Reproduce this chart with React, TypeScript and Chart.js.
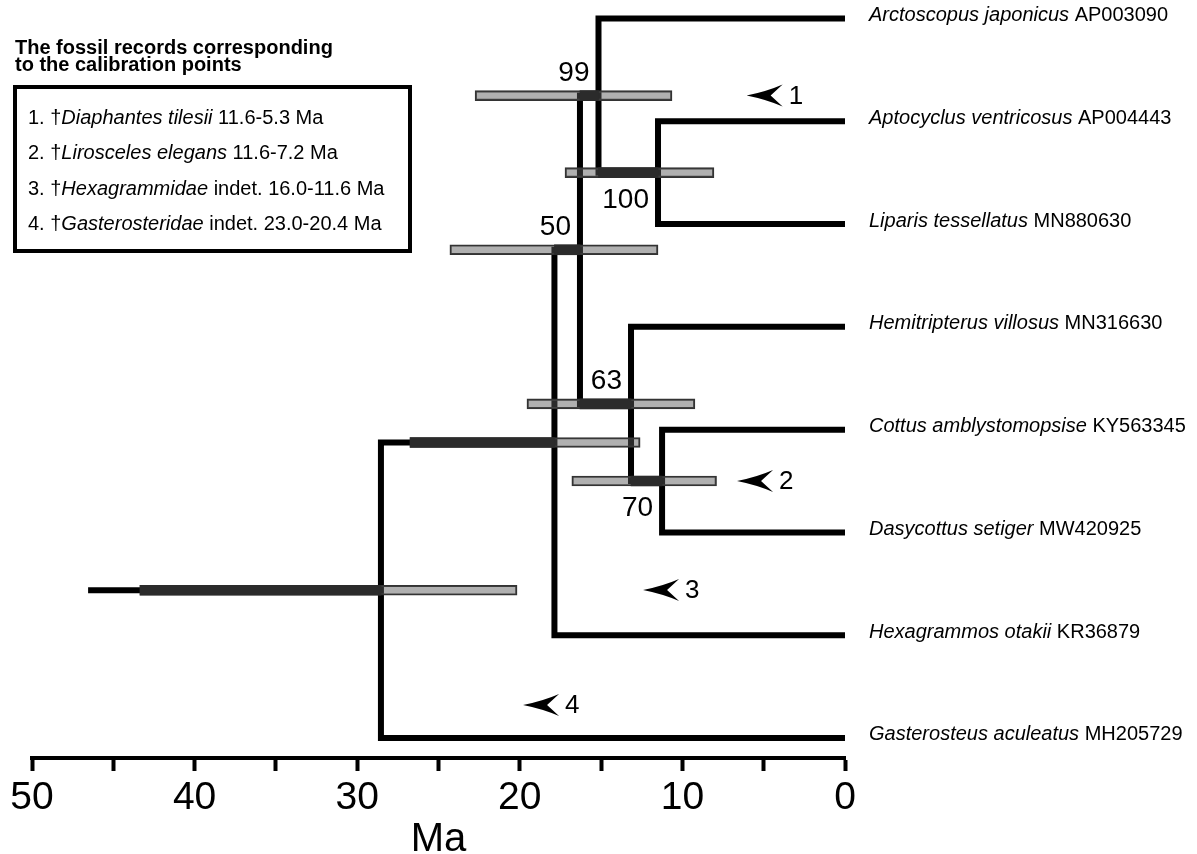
import React, { useEffect, useRef } from 'react';
import { Chart, registerables } from 'chart.js';

Chart.register(...registerables);

// ---------- data ----------
const taxonNames = [
  'Arctoscopus japonicus',
  'Aptocyclus ventricosus',
  'Liparis tessellatus',
  'Hemitripterus villosus',
  'Cottus amblystomopsise',
  'Dasycottus setiger',
  'Hexagrammos otakii',
  'Gasterosteus aculeatus',
];
const accessions = ['AP003090', 'AP004443', 'MN880630', 'MN316630', 'KY563345', 'MW420925', 'KR36879', 'MH205729'];

// internal nodes of the time tree (ages in Ma)
const nodeIds = ['root', 'nHex', 'n50', 'n99', 'n100', 'n63', 'n70'];
const nodeChildren = [
  ['nHex', 'L7'],
  ['n50', 'L6'],
  ['n99', 'n63'],
  ['L0', 'n100'],
  ['L1', 'L2'],
  ['L3', 'n70'],
  ['L4', 'L5'],
];
const nodeAges = [28.54, 17.87, 16.3, 15.16, 11.5, 13.16, 11.25];
const hpdLow = [20.17, 12.6, 11.5, 10.64, 8.06, 9.23, 7.9];
const hpdHigh = [43.36, 26.75, 24.3, 22.75, 17.22, 19.56, 16.8];
const supportLabels = ['', '', '50', '99', '100', '63', '70'];
const supportPlacement = ['', '', 'above', 'above', 'below', 'above', 'below'];
const rootTailAge = 46.55;

// calibration arrows
const calibNumbers = ['1', '2', '3', '4'];
const calibArrowAge = [6.05, 6.64, 12.42, 19.8];
const calibArrowRow = [0.75, 4.5, 5.56, 6.68];

// legend (fossil records)
const legendTitle = ['The fossil records corresponding', 'to the calibration points'];
const legendTaxa = ['Diaphantes tilesii', 'Lirosceles elegans', 'Hexagrammidae', 'Gasterosteridae'];
const legendSuffix = ['', '', ' indet.', ' indet.'];
const legendRanges = ['11.6-5.3 Ma', '11.6-7.2 Ma', '16.0-11.6 Ma', '23.0-20.4 Ma'];

const xMinMa = 0;
const xMaxMa = 50;
const xTickStep = 5;
const xLabelStep = 10;
const yMinRow = -0.1315;
const yMaxRow = 7.195;

// ---------- helpers ----------
const FONT = '"Liberation Sans", Arial, Helvetica, sans-serif';

function nodeIndex(id: string) {
  return nodeIds.indexOf(id);
}
function rowOf(id: string): number {
  if (id[0] === 'L') return parseInt(id.slice(1), 10);
  const c = nodeChildren[nodeIndex(id)];
  return (rowOf(c[0]) + rowOf(c[1])) / 2;
}
function ageOf(id: string): number {
  if (id[0] === 'L') return 0;
  return nodeAges[nodeIndex(id)];
}
function parentAgeOf(id: string): number {
  for (let i = 0; i < nodeChildren.length; i++) {
    if (nodeChildren[i].includes(id)) return nodeAges[i];
  }
  return rootTailAge;
}

function buildDatasets() {
  const ds: any[] = [];
  // dark overlap of HPD bar with the parent branch
  ds.push({
    type: 'bar',
    indexAxis: 'y',
    grouped: false,
    order: 0,
    barThickness: 10,
    backgroundColor: '#2b2b2b',
    borderWidth: 0,
    data: nodeIds.map((id, i) => ({
      y: rowOf(id),
      x: [nodeAges[i], Math.min(parentAgeOf(id), hpdHigh[i])],
    })),
  });
  // 95% HPD bars
  ds.push({
    type: 'bar',
    indexAxis: 'y',
    grouped: false,
    order: 1,
    barThickness: 10,
    backgroundColor: 'rgba(90,90,90,0.48)',
    borderColor: '#333333',
    borderWidth: 1.5,
    borderSkipped: false,
    data: nodeIds.map((id, i) => ({ y: rowOf(id), x: [hpdLow[i], hpdHigh[i]] })),
  });
  // branches
  const lineStyle = {
    type: 'line',
    order: 2,
    borderColor: '#000000',
    borderWidth: 6,
    pointRadius: 0,
    fill: false,
    tension: 0,
    borderJoinStyle: 'miter',
    borderCapStyle: 'butt',
  };
  nodeIds.forEach((id, i) => {
    const [c1, c2] = nodeChildren[i];
    const a = nodeAges[i];
    ds.push({
      ...lineStyle,
      data: [
        { x: ageOf(c1), y: rowOf(c1) },
        { x: a, y: rowOf(c1) },
        { x: a, y: rowOf(c2) },
        { x: ageOf(c2), y: rowOf(c2) },
      ],
    });
  });
  ds.push({
    ...lineStyle,
    data: [
      { x: rootTailAge, y: rowOf('root') },
      { x: nodeAges[0], y: rowOf('root') },
    ],
  });
  return ds;
}

const textPlugin = {
  id: 'treeText',
  afterDraw(chart: any) {
    const ctx = chart.ctx;
    const xs = chart.scales.x;
    const ys = chart.scales.y;
    ctx.save();
    ctx.fillStyle = '#000';
    ctx.strokeStyle = '#000';

    // taxon labels
    ctx.textBaseline = 'alphabetic';
    ctx.textAlign = 'left';
    taxonNames.forEach((name, i) => {
      const y = ys.getPixelForValue(i) + 2.5;
      const x = xs.getPixelForValue(0) + 24;
      ctx.font = `italic 20px ${FONT}`;
      ctx.fillText(name, x, y);
      const w = ctx.measureText(name + ' ').width;
      ctx.font = `20px ${FONT}`;
      ctx.fillText(accessions[i], x + w, y);
    });

    // support values
    ctx.font = `28px ${FONT}`;
    ctx.textAlign = 'right';
    nodeIds.forEach((id, i) => {
      if (!supportLabels[i]) return;
      const x = xs.getPixelForValue(nodeAges[i]) - 9;
      const yc = ys.getPixelForValue(rowOf(id));
      const y = supportPlacement[i] === 'above' ? yc - 15 : yc + 35;
      ctx.fillText(supportLabels[i], x, y);
    });

    // calibration arrows
    calibNumbers.forEach((n, i) => {
      const x0 = xs.getPixelForValue(calibArrowAge[i]);
      const y = ys.getPixelForValue(calibArrowRow[i]);
      ctx.beginPath();
      ctx.moveTo(x0, y);
      ctx.quadraticCurveTo(x0 + 20, y - 4, x0 + 36, y - 11);
      ctx.lineTo(x0 + 24, y);
      ctx.lineTo(x0 + 36, y + 11);
      ctx.quadraticCurveTo(x0 + 20, y + 4, x0, y);
      ctx.closePath();
      ctx.fill();
      ctx.font = `26px ${FONT}`;
      ctx.textAlign = 'left';
      ctx.textBaseline = 'middle';
      ctx.fillText(n, x0 + 42, y + 1);
    });

    // legend of fossil records
    ctx.textBaseline = 'alphabetic';
    ctx.textAlign = 'left';
    ctx.font = `bold 20px ${FONT}`;
    ctx.fillText(legendTitle[0], 15, 53.5);
    ctx.fillText(legendTitle[1], 15, 71);
    ctx.lineWidth = 4;
    ctx.strokeRect(15, 87, 395, 164);
    legendTaxa.forEach((t, i) => {
      const y = 123.5 + 35.5 * i;
      let x = 28;
      ctx.font = `20px ${FONT}`;
      const pre = `${i + 1}. \u2020`;
      ctx.fillText(pre, x, y);
      x += ctx.measureText(pre).width;
      ctx.font = `italic 20px ${FONT}`;
      ctx.fillText(t, x, y);
      x += ctx.measureText(t).width;
      ctx.font = `20px ${FONT}`;
      ctx.fillText(`${legendSuffix[i]} ${legendRanges[i]}`, x, y);
    });
    ctx.restore();
  },
};

export default function App() {
  const canvasRef = useRef<HTMLCanvasElement | null>(null);

  useEffect(() => {
    if (!canvasRef.current) return;
    const chart = new Chart(canvasRef.current, {
      type: 'line',
      data: { datasets: buildDatasets() },
      options: {
        animation: false,
        responsive: false,
        devicePixelRatio: 1,
        layout: { padding: { left: 32, right: 352, top: 5, bottom: 0 } },
        plugins: { legend: { display: false }, tooltip: { enabled: false } },
        scales: {
          x: {
            type: 'linear',
            reverse: true,
            offset: false,
            min: xMinMa,
            max: xMaxMa,
            grid: {
              display: true,
              offset: false,
              drawOnChartArea: false,
              drawTicks: true,
              tickLength: 13,
              tickWidth: 4,
              tickColor: '#000',
            },
            border: { display: true, color: '#000', width: 4 },
            ticks: {
              stepSize: xTickStep,
              autoSkip: false,
              maxRotation: 0,
              padding: 8,
              color: '#000',
              font: { family: FONT, size: 39, lineHeight: 1 },
              callback: (v: any) => (Number(v) % xLabelStep === 0 ? String(v) : ''),
            },
            title: {
              display: true,
              text: 'Ma',
              color: '#000',
              font: { family: FONT, size: 40, lineHeight: 1 },
              padding: { top: -6, bottom: 6 },
            },
          },
          y: {
            type: 'linear',
            display: false,
            reverse: true,
            offset: false,
            grid: { offset: false },
            min: yMinRow,
            max: yMaxRow,
          },
        },
      },
      plugins: [textPlugin],
    } as any);
    return () => chart.destroy();
  }, []);

  return (
    <div style={{ position: 'fixed', left: 0, top: 0, width: 1197, height: 866, background: '#fff' }}>
      <canvas ref={canvasRef} width={1197} height={866} style={{ display: 'block' }} />
    </div>
  );
}
